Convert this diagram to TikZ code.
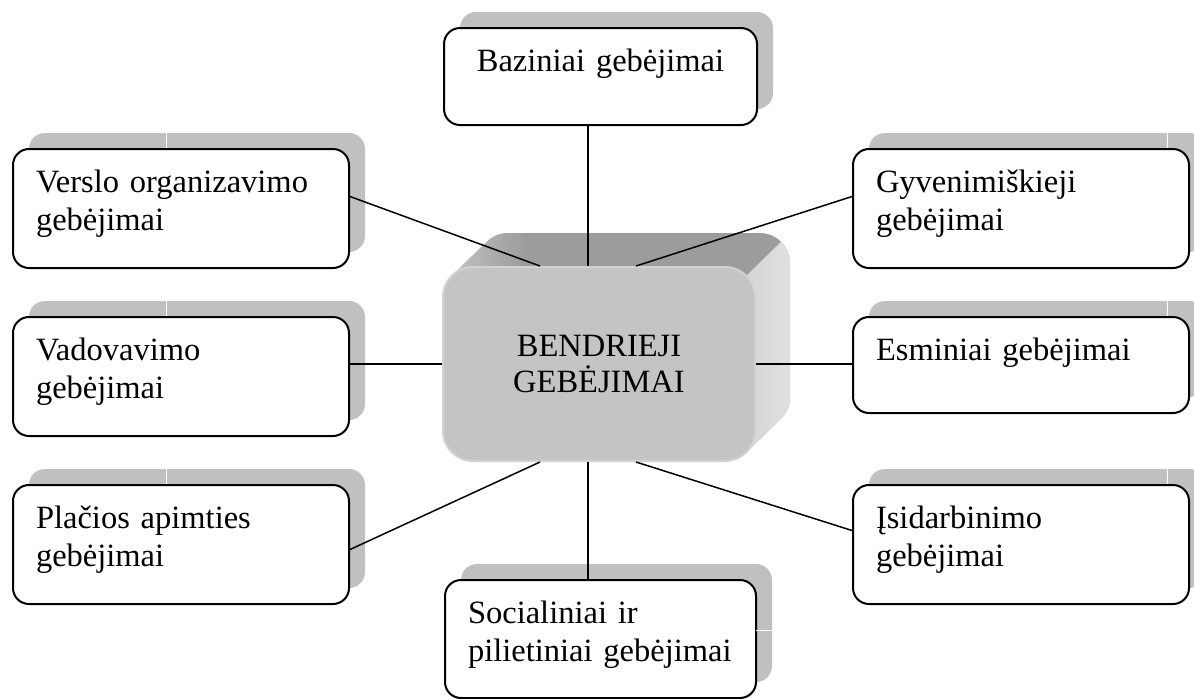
\documentclass[tikz,border=0pt]{standalone}
\usepackage{fontspec}
\setmainfont{Liberation Serif}
\usepackage{tikz}
\usetikzlibrary{calc,shadows}
\definecolor{shadowgray}{RGB}{192,192,192}
\definecolor{facegray}{RGB}{196,196,196}
\definecolor{rimgray}{RGB}{210,210,210}
\definecolor{topgray}{RGB}{156,156,156}
\definecolor{sidedark}{RGB}{212,212,212}
\definecolor{sidelight}{RGB}{234,234,234}

\begin{document}
\begin{tikzpicture}
[
x=0.5pt, y=-0.5pt,
boxnode/.style={rectangle, draw=black, fill=white, line width=1pt, rounded corners=8pt,
  drop shadow={shadow xshift=8pt, shadow yshift=8pt, opacity=1, fill=shadowgray, draw=none},
  anchor=north west, inner xsep=11.5pt, inner ysep=0pt, text width=145pt, align=left,
  text height=21.75pt, text depth=37.75pt, font=\fontsize{16.25pt}{19pt}\selectfont},
flatnode/.style={boxnode, text depth=26.25pt},
centernode/.style={rectangle, fill=facegray, draw=rimgray, line width=1pt, rounded corners=15pt,
  minimum width=156pt, minimum height=97pt, inner sep=0pt, align=center,
  font=\fontsize{16.25pt}{18pt}\selectfont},
link/.style={line width=0.75pt},
seam/.style={white, line width=0.5pt},
]
\useasboundingbox (0,0) rectangle (1194,698);

%3D body of the centre box
\begin{scope}
\clip[rounded corners=15pt] \foreach \s in {0,...,35} {(443+\s,267-0.97*\s) rectangle ++(312,194)};
\fill[topgray] (430,220) rectangle (800,480);
\shade[left color=topgray!55!white, right color=topgray] (440,225) rectangle (525,280);
\shade[left color=sidedark, right color=sidelight] (746,276) -- (830,194) -- (830,480) -- (740,480) -- cycle;
\end{scope}

%Nodes
\node[centernode] (node0) at (599,364) {BENDRIEJI\\GEBĖJIMAI};
\node[flatnode, text depth=26.75pt, text width=133.5pt, align=center] (node1) at (443,27) {Baziniai gebėjimai};
\node[boxnode] (node2) at (852,148) {Gyvenimiškieji\\gebėjimai};
\node[flatnode] (node3) at (852,316) {Esminiai gebėjimai};
\node[boxnode] (node4) at (852,484) {Įsidarbinimo\\gebėjimai};
\node[boxnode, text width=132.5pt, text depth=37.25pt] (node5) at (444,579) {Socialiniai ir\\pilietiniai gebėjimai};
\node[boxnode] (node6) at (12,484) {Plačios apimties\\gebėjimai};
\node[boxnode] (node7) at (12,316) {Vadovavimo\\gebėjimai};
\node[boxnode] (node8) at (12,148) {Verslo organizavimo\\gebėjimai};

%Seams in the shadows
\draw[seam] (166,132) -- (166,148);
\draw[seam] (166,300) -- (166,316);
\draw[seam] (166,468) -- (166,484);
\draw[seam] (1167,132) -- (1167,148);
\draw[seam] (1167,300) -- (1167,316);
\draw[seam] (1167,468) -- (1167,484);
\draw[seam] (756,630) -- (772,630);

%Lines
\draw[link] ([xshift=-5.5pt]node0.north |- node1.south) -- ([xshift=-5.5pt]node0.north);
\draw[link] ($(node2.west)+(0,-12)$) -- ($(node0.north)+(37,0)$);
\draw[link] (node0.east) -- (node3.west |- node0.east);
\draw[link] ($(node4.west)+(0,-14)$) -- ($(node0.south)+(37,0)$);
\draw[link] ([xshift=-5.5pt]node0.south) -- ([xshift=-5.5pt]node0.south |- node5.north);
\draw[link] ($(node6.east)+(0,5)$) -- ($(node0.south)+(-59,0)$);
\draw[link] (node7.east |- node0.west) -- (node0.west);
\draw[link] ($(node8.east)+(0,-12)$) -- ($(node0.north)+(-59,0)$);
\end{tikzpicture}
\end{document}
